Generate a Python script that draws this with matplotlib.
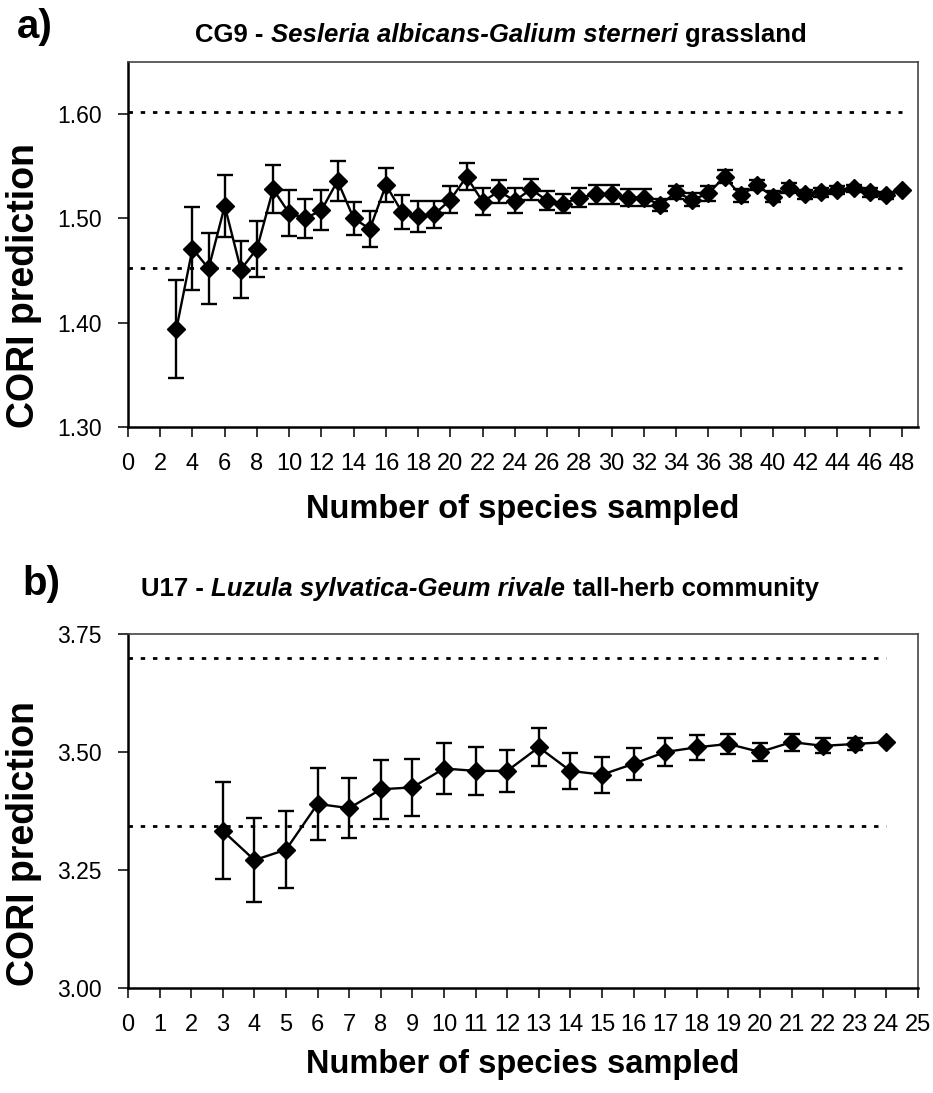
import matplotlib
matplotlib.use('Agg')
import matplotlib.pyplot as plt
from matplotlib.ticker import FormatStrFormatter
from matplotlib.transforms import IdentityTransform

plt.rcParams['font.family'] = ['Liberation Sans', 'DejaVu Sans']

# Panel a - CG9
a_x = list(range(3, 49))
a_mean = [1.394, 1.471, 1.452, 1.512, 1.451, 1.471, 1.528, 1.505, 1.500, 1.508,
          1.536, 1.500, 1.490, 1.532, 1.506, 1.502, 1.504, 1.518, 1.540, 1.516,
          1.526, 1.517, 1.528, 1.517, 1.514, 1.520, 1.523, 1.523, 1.520, 1.520,
          1.513, 1.525, 1.518, 1.524, 1.540, 1.522, 1.532, 1.521, 1.529, 1.523,
          1.525, 1.527, 1.529, 1.525, 1.522, 1.527]
a_err = [0.047, 0.040, 0.034, 0.030, 0.027, 0.027, 0.023, 0.022, 0.019, 0.019,
         0.019, 0.016, 0.017, 0.016, 0.016, 0.015, 0.013, 0.013, 0.013, 0.013,
         0.011, 0.012, 0.010, 0.009, 0.009, 0.009, 0.009, 0.009, 0.008, 0.008,
         0.006, 0.006, 0.006, 0.007, 0.006, 0.006, 0.005, 0.005, 0.005, 0.004,
         0.0045, 0.004, 0.0035, 0.004, 0.003, 0.0]
a_limits = [1.602, 1.452]
a_yticks = [1.30, 1.40, 1.50, 1.60]
a_xticks = list(range(0, 49, 2))

# Panel b - U17
b_x = list(range(3, 25))
b_mean = [3.333, 3.271, 3.293, 3.390, 3.381, 3.421, 3.425, 3.465, 3.460, 3.460,
          3.510, 3.460, 3.452, 3.475, 3.500, 3.510, 3.517, 3.500, 3.521, 3.513,
          3.517, 3.521]
b_err = [0.103, 0.089, 0.081, 0.077, 0.064, 0.063, 0.060, 0.055, 0.051, 0.044,
         0.040, 0.038, 0.038, 0.034, 0.029, 0.027, 0.022, 0.020, 0.018, 0.016,
         0.012, 0.0]
b_limits = [3.700, 3.343]
b_yticks = [3.00, 3.25, 3.50, 3.75]
b_xticks = list(range(0, 26))

W, H = 933, 1093
fig = plt.figure(figsize=(W / 100, H / 100), dpi=100)
ax_a = fig.add_axes([128 / W, 1 - 427 / H, 790 / W, 365 / H])
ax_b = fig.add_axes([128 / W, 1 - 988 / H, 790 / W, 354 / H])


def draw_panel(ax, x, mean, err, limits, xticks, xlim, yticks, ylim, ylab_y, xlab_y):
    ax.hlines(limits, 0, x[-1], colors='black', linestyles=(0, (1.6, 2.8)), lw=2.0)
    ax.errorbar(x, mean, yerr=err, fmt='-D', color='black', ms=9.5, lw=1.7,
                elinewidth=1.7, capsize=6, capthick=1.7)
    ax.set_xlim(*xlim)
    ax.set_ylim(*ylim)
    ax.set_xticks(xticks)
    ax.set_yticks(yticks)
    ax.yaxis.set_major_formatter(FormatStrFormatter('%.2f'))
    ax.tick_params(direction='out', length=7, width=1.1, pad=12)
    ax.tick_params(axis='x', labelsize=17)
    ax.tick_params(axis='y', labelsize=16.5)
    for s in ['left', 'bottom']:
        ax.spines[s].set_linewidth(1.8)
        ax.spines[s].set_color('black')
    for s in ['top', 'right']:
        ax.spines[s].set_linewidth(1.2)
        ax.spines[s].set_color('#444444')
    ax.set_ylabel('CORI prediction', fontsize=27, fontweight='bold')
    ax.yaxis.set_label_coords(-0.109, ylab_y)
    ax.set_xlabel('Number of species sampled', fontsize=23.5, fontweight='bold', va='top')
    ax.xaxis.set_label_coords(0.5, xlab_y)


draw_panel(ax_a, a_x, a_mean, a_err, a_limits, a_xticks, (0, 49), a_yticks, (1.30, 1.65), 0.389, -0.184)
draw_panel(ax_b, b_x, b_mean, b_err, b_limits, b_xticks, (0, 25), b_yticks, (3.0, 3.75), 0.408, -0.172)


def rich_title(xc, ybase, parts, size):
    # bold / bold-italic pieces side by side, centred on xc (pixels from left)
    renderer = fig.canvas.get_renderer()
    probe = fig.text(0, 0, 'a a', fontsize=size, fontweight='bold', transform=IdentityTransform())
    probe2 = fig.text(0, 0, 'aa', fontsize=size, fontweight='bold', transform=IdentityTransform())
    gap = probe.get_window_extent(renderer).width - probe2.get_window_extent(renderer).width
    probe.remove()
    probe2.remove()
    texts = []
    for s, st in parts:
        t = fig.text(0, H - ybase, s, fontsize=size, fontweight='bold', fontstyle=st,
                     ha='left', va='baseline', transform=IdentityTransform())
        texts.append(t)
    widths = [t.get_window_extent(renderer).width for t in texts]
    total = sum(widths) + gap * (len(texts) - 1)
    x0 = xc - total / 2
    for t, w in zip(texts, widths):
        t.set_x(x0)
        x0 += w + gap


fig.text(17 / W, 1 - 38 / H, 'a)', fontsize=29, fontweight='bold', va='baseline', ha='left')
fig.text(22 / W, 1 - 595 / H, 'b)', fontsize=29, fontweight='bold', va='baseline', ha='left')

rich_title(501, 42, [('CG9 -', 'normal'), ('Sesleria albicans-Galium sterneri', 'italic'),
                     ('grassland', 'normal')], 18.5)
rich_title(480, 596, [('U17 -', 'normal'), ('Luzula sylvatica-Geum rivale', 'italic'),
                      ('tall-herb community', 'normal')], 18.5)

fig.savefig('out.png', dpi=100)
